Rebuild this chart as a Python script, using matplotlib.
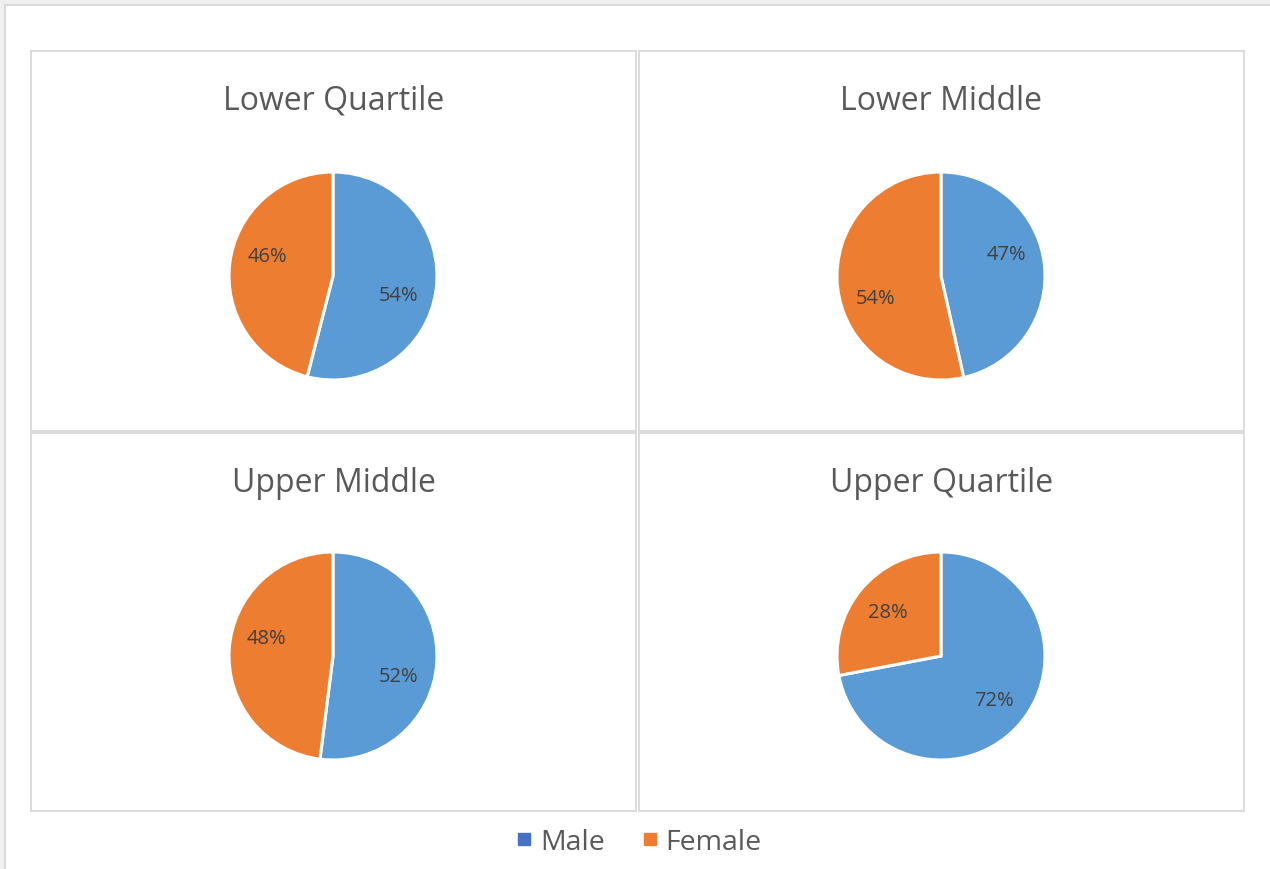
import matplotlib
matplotlib.use("Agg")
import matplotlib.pyplot as plt
from matplotlib.patches import Rectangle
from matplotlib.lines import Line2D
import numpy as np

plt.rcParams['font.family'] = ['Open Sans', 'DejaVu Sans']

# ---- data ----
titles = ["Lower Quartile", "Lower Middle", "Upper Middle", "Upper Quartile"]
categories = ["Male", "Female"]
male = [54, 46.5, 52, 72]
female = [46, 53.5, 48, 28]

# ---- style ----
pie_colors = ["#5B9BD5", "#ED7D31"]
legend_colors = ["#4472C4", "#ED7D31"]
label_shift_deg = [[-9, -10], [12, 12], [-13, -12], [0, 0]]

W, H = 1270, 870
fig = plt.figure(figsize=(W / 100, H / 100), dpi=100, facecolor="#f0f0f0")

# outer white chart area
fig.patches.append(Rectangle((5 / W, -0.05), 1.1, (H - 6) / H + 0.05,
                             transform=fig.transFigure, facecolor="white",
                             edgecolor="#d9d9d9", linewidth=1.5, zorder=-5))

# panel boxes (pixels: left, top, right, bottom)
panels = [(31, 52, 636, 432), (639, 52, 1244, 432),
          (31, 434, 636, 812), (639, 434, 1244, 812)]


def pct_fmt(p):
    return "%d%%" % int(np.floor(p + 0.5 + 1e-9))


for i, (l, t, r, b) in enumerate(panels):
    pw, ph = r - l, b - t
    ax = fig.add_axes([l / W, (H - b) / H, pw / W, ph / H])
    ax.set_zorder(1)
    vals = [male[i], female[i]]
    rad = 104
    cx = pw / 2 - 0.5
    cy = ph - (277 - 52 if i < 2 else 657 - 434)
    wedges, texts, autotexts = ax.pie(
        vals, colors=pie_colors, startangle=90, counterclock=False,
        center=(cx, cy), radius=rad, autopct=pct_fmt, pctdistance=0.66,
        wedgeprops=dict(edgecolor="white", linewidth=2.2),
        textprops=dict(color="#404040", fontsize=14.5), frame=True)
    # reposition labels along the circle (Excel best-fit style)
    for j, (w, at) in enumerate(zip(wedges, autotexts)):
        ang = np.deg2rad((w.theta1 + w.theta2) / 2 + label_shift_deg[i][j])
        d = 0.66 * rad
        at.set_position((cx + d * np.cos(ang), cy + d * np.sin(ang)))
    ax.set_xlim(0, pw)
    ax.set_ylim(0, ph)
    ax.set_aspect("auto")
    ax.set_xticks([])
    ax.set_yticks([])
    for s in ax.spines.values():
        s.set_color("#d9d9d9")
        s.set_linewidth(1.3)
    ax.text(pw / 2, ph - 49, titles[i], ha="center", va="center",
            fontsize=23, color="#595959")

handles = [Line2D([], [], marker="s", linestyle="none", markersize=8.5,
                  markerfacecolor=c, markeredgecolor=c) for c in legend_colors]
fig.legend(handles, categories, loc="center", bbox_to_anchor=(0.503, (H - 843) / H),
           ncol=2, frameon=False, fontsize=20.5, labelcolor="#595959",
           handletextpad=0.24, columnspacing=1.3, handlelength=0.6)

fig.savefig("out.png", dpi=100, facecolor=fig.get_facecolor())
